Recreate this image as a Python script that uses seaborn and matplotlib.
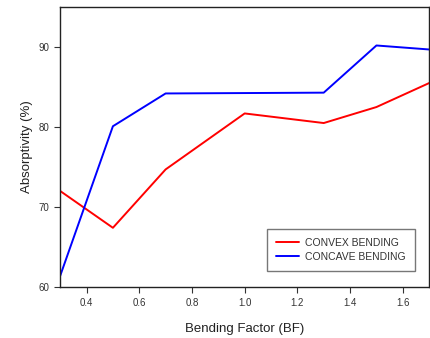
import pandas as pd
import matplotlib
matplotlib.use('Agg')
import matplotlib.pyplot as plt
import seaborn as sns

# bending factor and absorptivity values
bf = [0.3, 0.5, 0.7, 1.0, 1.3, 1.5, 1.7]
convex = [72.0, 67.4, 74.7, 81.7, 80.5, 82.5, 85.5]
concave = [61.4, 80.1, 84.2, 84.25, 84.3, 90.2, 89.7]
series_names = ['CONVEX BENDING', 'CONCAVE BENDING']

df = pd.DataFrame({
    'bf': bf * 2,
    'absorptivity': convex + concave,
    'series': [series_names[0]] * len(bf) + [series_names[1]] * len(bf),
})

sns.set_style('white')
plt.rcParams['font.family'] = ['Liberation Sans', 'DejaVu Sans']

fig = plt.figure(figsize=(4.3, 3.38), dpi=100)
ax = fig.add_axes([0.14, 0.151, 0.858, 0.828])

sns.lineplot(data=df, x='bf', y='absorptivity', hue='series',
             palette=['#ff0000', '#0000ff'], linewidth=1.4, ax=ax)

ax.set_xlim(0.3, 1.7)
ax.set_ylim(60, 95)
ax.set_xticks([0.4, 0.6, 0.8, 1.0, 1.2, 1.4, 1.6])
ax.set_yticks([60, 70, 80, 90])
ax.set_xticklabels(['0.4', '0.6', '0.8', '1.0', '1.2', '1.4', '1.6'])
ax.tick_params(axis='both', direction='out', length=4, width=0.8,
               labelsize=7, colors='#333333', bottom=True, left=True, pad=4)
for s in ax.spines.values():
    s.set_color('#222222')
    s.set_linewidth(1.0)

ax.set_xlabel('Bending Factor (BF)', fontsize=9.5, color='#222222', labelpad=11)
ax.set_ylabel('Absorptivity (%)', fontsize=9.5, color='#222222', labelpad=4)

leg = ax.legend(loc='lower right', bbox_to_anchor=(0.962, 0.057), fontsize=7.5,
                frameon=True, fancybox=False, edgecolor='#555555',
                handlelength=2.2, handletextpad=0.6, borderpad=0.9,
                labelspacing=0.35, borderaxespad=0)
leg.get_frame().set_linewidth(1.0)
for t in leg.get_texts():
    t.set_color('#333333')

fig.savefig('out.png', dpi=100)
